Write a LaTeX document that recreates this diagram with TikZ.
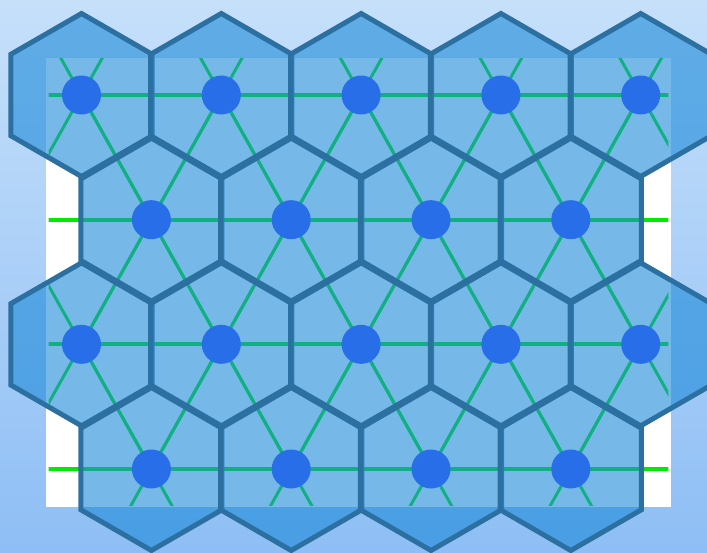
\documentclass[tikz,border=0pt]{standalone}
\usetikzlibrary{calc}
\definecolor{bgtop}{RGB}{198,224,250}
\definecolor{bgbot}{RGB}{142,190,245}
\definecolor{hexfill}{RGB}{28,138,218}
\definecolor{hexline}{RGB}{44,112,162}
\definecolor{linkgreen}{RGB}{0,235,0}
\definecolor{dotblue}{RGB}{40,110,232}

\begin{document}
\begin{tikzpicture}[
  x=1pt, y=-1pt,
  hexcell/.style={draw=hexline, line width=5pt, fill=hexfill, fill opacity=0.6, line join=miter},
  link/.style={draw=linkgreen, line width=3pt},
  hlink/.style={link, line width=4pt},
  dot/.style={circle, fill=dotblue, minimum size=39pt, inner sep=0pt}
]
\useasboundingbox (0,0) rectangle (707,552);
\shade[top color=bgtop, bottom color=bgbot] (0,0) rectangle (707,552);

% lattice centres
\foreach \r/\y/\xo/\m in {1/95/81.5/5, 2/219.67/151.4/4, 3/344.33/81.5/5, 4/469/151.4/4}
  \foreach \c in {1,...,\m}
    \coordinate (c\r\c) at ({\xo+139.8*(\c-1)},\y);

% white sheet
\fill[white] (46,58.3) rectangle (670.7,506.7);

% triangular links, cut to the sheet
\begin{scope}
  \clip (48.5,58.3) rectangle (668.3,505);
  \foreach \r/\m in {1/5, 2/4, 3/5, 4/4}
    \foreach \c in {1,...,\m} {
      \draw[hlink] ($(c\r\c)+(-139.8,0)$) -- ($(c\r\c)+(139.8,0)$);
      \draw[link] ($(c\r\c)+(-69.9,-124.67)$) -- ($(c\r\c)+(69.9,124.67)$);
      \draw[link] ($(c\r\c)+(69.9,-124.67)$) -- ($(c\r\c)+(-69.9,124.67)$);
    }
\end{scope}

% hexagonal cells
\foreach \r/\m in {1/5, 2/4, 3/5, 4/4}
  \foreach \c in {1,...,\m}
    \draw[hexcell] (c\r\c) +(90:81.5) -- +(30:81.5) -- +(-30:81.5)
      -- +(-90:81.5) -- +(-150:81.5) -- +(150:81.5) -- cycle;

% sites
\foreach \r/\m in {1/5, 2/4, 3/5, 4/4}
  \foreach \c in {1,...,\m}
    \node[dot] (n\r\c) at (c\r\c) {};
\end{tikzpicture}
\end{document}
